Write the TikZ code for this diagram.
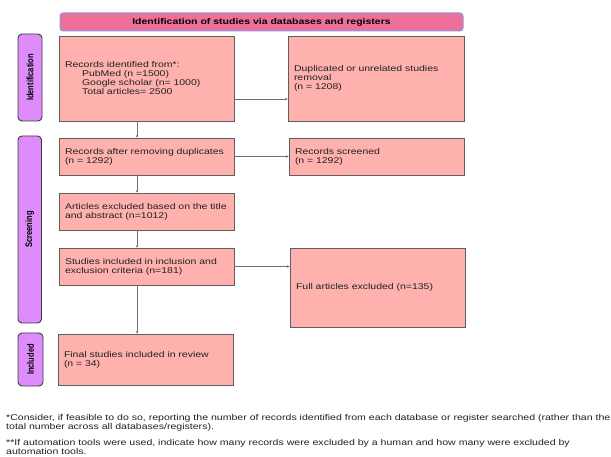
\documentclass[tikz,border=0pt]{standalone}
\usepackage{fontspec}
\setmainfont{Liberation Sans}
\newfontfamily\bxfont[FakeStretch=1.25]{Liberation Sans}
\newfontfamily\sidefont[FakeStretch=0.8,UprightFont=*,BoldFont=* Bold]{Liberation Sans}
\usetikzlibrary{arrows.meta,calc}
\definecolor{boxfill}{HTML}{FFB2AD}
\definecolor{boxline}{HTML}{5E5E5E}
\definecolor{headfill}{HTML}{EE7099}
\definecolor{headline}{HTML}{8A9BE6}
\definecolor{sidefill}{HTML}{DE8CFB}
\definecolor{sideline}{HTML}{3A3A3A}
\definecolor{linkgray}{HTML}{707070}
\definecolor{txt}{HTML}{222222}
\begin{document}
\begin{tikzpicture}[x=1pt,y=-1pt,
  bx/.style args={#1/#2}{draw=boxline, fill=boxfill, line width=0.9pt,
    minimum width=#1pt, minimum height=#2pt, text width=#1pt-12pt,
    inner xsep=6pt, inner ysep=2pt, align=left, text=txt,
    font=\bxfont\fontsize{8.4}{9}\selectfont},
  sidebox/.style args={#1/#2}{draw=sideline, fill=sidefill, line width=0.9pt,
    rounded corners=4pt, rotate=90, minimum width=#2pt, minimum height=#1pt,
    inner sep=0pt, text=black, font=\sidefont\bfseries\fontsize{9.4}{10}\selectfont},
  headbox/.style={draw=headline, fill=headfill, line width=1pt, rounded corners=3pt,
    minimum width=403pt, minimum height=18pt, inner sep=0pt, text=black,
    font=\bxfont\bfseries\fontsize{8.4}{9}\selectfont},
  arr/.style={draw=linkgray, line width=0.7pt, -{Stealth[length=2.5pt,width=2.5pt]}},
  foot/.style={anchor=west, align=left, inner sep=0pt, text=txt,
    font=\bxfont\fontsize{8.45}{9}\selectfont}
]
\useasboundingbox (0,0) rectangle (611,457);
\fill[white] (0,0) rectangle (611,457);

\node[headbox] (head) at (261.5,22) {Identification of studies via databases and registers};

\node[sidebox=24/87] (sIdent) at (30,77.5) {Identification};
\node[sidebox=23.5/187] (sScreen) at (29.75,229.5) {Screening};
\node[sidebox=25/53] (sIncl) at (30.5,359.5) {Included};

\node[bx=175/85] (b1) at (146.5,78.5) {Records identified from*:\\
  \hspace*{17pt}PubMed (n =1500)\\
  \hspace*{17pt}Google scholar (n= 1000)\\
  \hspace*{17pt}Total articles= 2500};
\node[bx=176/85] (b2) at (376,78.5) {Duplicated or unrelated studies\\ removal\\ (n = 1208)};
\node[bx=175/37] (b3) at (146.5,156.5) {Records after removing duplicates\\ (n = 1292)};
\node[bx=175/37] (b4) at (376.5,156.5) {Records screened\\ (n = 1292)};
\node[bx=175/37] (b5) at (146.5,211.5) {Articles excluded based on the title\\ and abstract (n=1012)};
\node[bx=175/37] (b6) at (146.5,266.5) {Studies included in inclusion and\\ exclusion criteria (n=181)};
\node[bx=175/79] (b7) at (377.5,287.5) {Full articles excluded (n=135)};
\node[bx=175/51] (b8) at (145.5,359.5) {Final studies included in review\\ (n = 34)\\[5pt]};

\draw[arr] ([yshift=-20.5pt]b1.east) -- ([yshift=-20.5pt]b2.west);
\draw[arr] (b3.east) -- (b4.west);
\draw[arr] (b6.east) -- (b6.east -| b7.west);

\draw[arr] ([xshift=-9.5pt]b1.south) -- ([xshift=-9.5pt]b1.south |- b3.north);
\draw[arr] ([xshift=-9.5pt]b3.south) -- ([xshift=-9.5pt]b3.south |- b5.north);
\draw[arr] ([xshift=-9.5pt]b5.south) -- ([xshift=-9.5pt]b5.south |- b6.north);
\draw[arr] ([xshift=-9.5pt]b6.south) -- ([xshift=-9.5pt]b6.south |- b8.north);

\node[foot] (f1) at (6,422.5) {*Consider, if feasible to do so, reporting the number of records identified from each database or register searched (rather than the\\ total number across all databases/registers).};
\node[foot] (f2) at (6,446.5) {**If automation tools were used, indicate how many records were excluded by a human and how many were excluded by\\ automation tools.};
\end{tikzpicture}
\end{document}
